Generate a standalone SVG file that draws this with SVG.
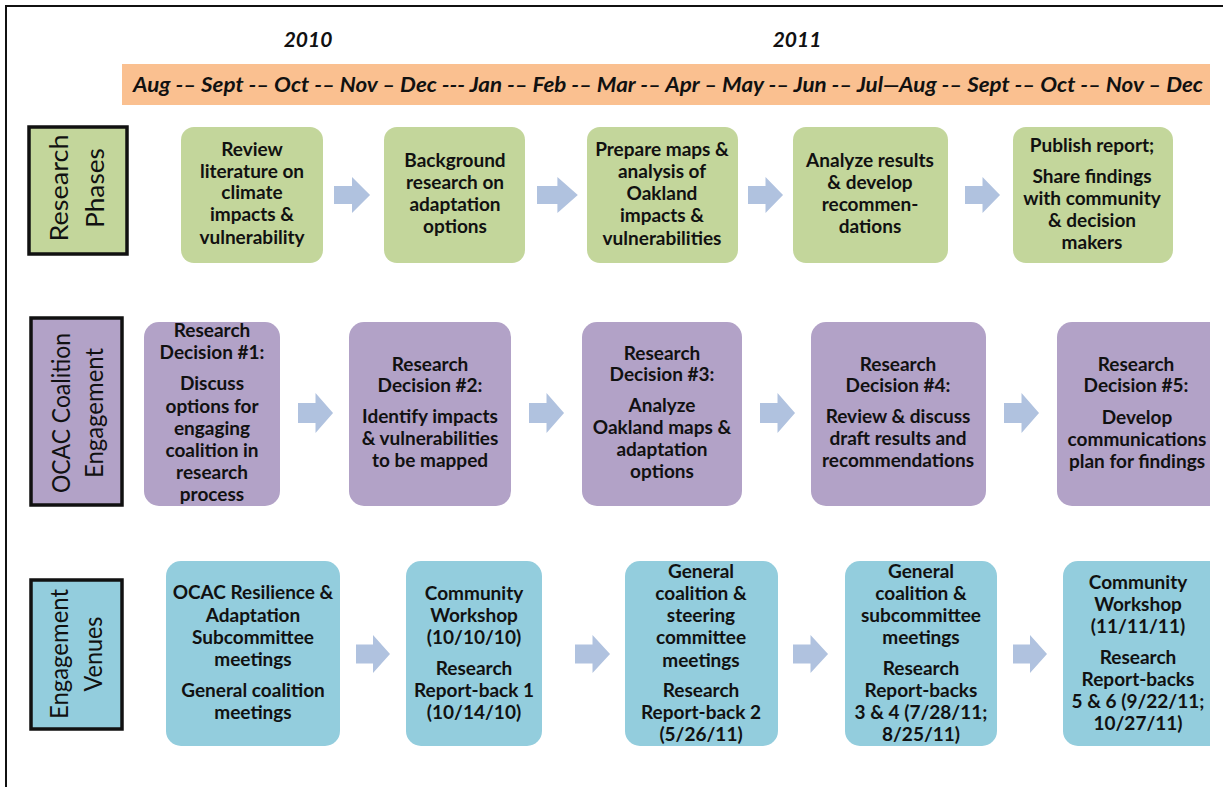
<svg xmlns="http://www.w3.org/2000/svg" width="1223" height="787" viewBox="0 0 1223 787">
<style>
.t{font-family:Lato,"Liberation Sans",sans-serif;font-weight:bold;font-size:19px;fill:#111;text-anchor:middle}
.lab{font-family:Lato,"Liberation Sans",sans-serif;font-size:25px;fill:#111;text-anchor:middle}
.yr{font-family:Lato,"Liberation Sans",sans-serif;font-weight:bold;font-style:italic;font-size:21px;fill:#111;text-anchor:middle}
.g{fill:#c3d69b}.p{fill:#b2a2c7}.b{fill:#93cddd}
.hd{stroke:#111;stroke-width:3.5}
.ar{fill:#b0c2df}
</style>
<defs>
<path id="arr" d="M0,-10 H17 V-20 L34,0 L17,20 V10 H0 Z"/>
<clipPath id="clip"><rect x="0" y="0" width="1210" height="787"/></clipPath>
</defs>
<rect width="1223" height="787" fill="#fff"/>
<rect x="6" y="6" width="1240" height="800" fill="none" stroke="#111" stroke-width="2"/>

<g id="timeline">
<text class="yr" x="308" y="47">2010</text>
<text class="yr" x="797" y="47">2011</text>
<rect x="122" y="64" width="1088" height="41" fill="#fac090"/>
<text class="yr" x="668" y="92" textLength="1070" lengthAdjust="spacingAndGlyphs">Aug -– Sept -– Oct -– Nov – Dec --- Jan -– Feb -– Mar -– Apr – May -– Jun -– Jul—Aug -– Sept -– Oct -– Nov – Dec</text>
</g>

<g id="label-research-phases">
<rect class="g hd" x="29" y="127" width="98" height="127"/>
<g transform="translate(77,188) rotate(-90)">
<text class="lab" x="0" y="-9" textLength="107" lengthAdjust="spacingAndGlyphs">Research</text>
<text class="lab" x="0" y="27" textLength="80" lengthAdjust="spacingAndGlyphs">Phases</text>
</g>
</g>
<g id="label-ocac">
<rect class="p hd" x="31" y="318" width="91" height="187"/>
<g transform="translate(77,413) rotate(-90)">
<text class="lab" x="0" y="-7" textLength="160" lengthAdjust="spacingAndGlyphs">OCAC Coalition</text>
<text class="lab" x="0" y="26" textLength="130" lengthAdjust="spacingAndGlyphs">Engagement</text>
</g>
</g>
<g id="label-venues">
<rect class="b hd" x="31" y="580" width="91" height="149"/>
<g transform="translate(77,654) rotate(-90)">
<text class="lab" x="0" y="-9" textLength="130" lengthAdjust="spacingAndGlyphs">Engagement</text>
<text class="lab" x="0" y="25" textLength="75" lengthAdjust="spacingAndGlyphs">Venues</text>
</g>
</g>

<g id="connectors">
<use href="#arr" class="ar" transform="translate(334,195) scale(1.06,0.9)"/>
<use href="#arr" class="ar" transform="translate(537,195) scale(1.2,0.9)"/>
<use href="#arr" class="ar" transform="translate(748,195) scale(1.03,0.9)"/>
<use href="#arr" class="ar" transform="translate(965,195) scale(1.03,0.9)"/>
<use href="#arr" class="ar" transform="translate(298,413) scale(1.03,1)"/>
<use href="#arr" class="ar" transform="translate(529,413) scale(1.03,1)"/>
<use href="#arr" class="ar" transform="translate(760,413) scale(1.03,1)"/>
<use href="#arr" class="ar" transform="translate(1004,413) scale(1.03,1)"/>
<use href="#arr" class="ar" transform="translate(356,654) scale(1.0,0.95)"/>
<use href="#arr" class="ar" transform="translate(575,654) scale(1.03,0.95)"/>
<use href="#arr" class="ar" transform="translate(793,654) scale(1.03,0.95)"/>
<use href="#arr" class="ar" transform="translate(1013,654) scale(1.0,0.95)"/>
</g>

<g id="rp1"><rect class="g" x="181" y="127" width="142" height="136" rx="13"/>
<text class="t" x="252" y="156">Review</text><text class="t" x="252" y="178">literature on</text><text class="t" x="252" y="199">climate</text><text class="t" x="252" y="221">impacts &amp;</text><text class="t" x="252" y="244">vulnerability</text></g>
<g id="rp2"><rect class="g" x="384" y="127" width="141" height="136" rx="13"/>
<text class="t" x="455" y="167">Background</text><text class="t" x="455" y="189">research on</text><text class="t" x="455" y="211">adaptation</text><text class="t" x="455" y="233">options</text></g>
<g id="rp3"><rect class="g" x="587" y="127" width="151" height="136" rx="13"/>
<text class="t" x="662" y="156">Prepare maps &amp;</text><text class="t" x="662" y="178">analysis of</text><text class="t" x="662" y="200">Oakland</text><text class="t" x="662" y="222">impacts &amp;</text><text class="t" x="662" y="245">vulnerabilities</text></g>
<g id="rp4"><rect class="g" x="793" y="127" width="155" height="136" rx="13"/>
<text class="t" x="870" y="167">Analyze results</text><text class="t" x="870" y="189">&amp; develop</text><text class="t" x="870" y="211">recommen-</text><text class="t" x="870" y="233">dations</text></g>
<g id="rp5"><rect class="g" x="1013" y="127" width="160" height="136" rx="13"/>
<text class="t" x="1092" y="152">Publish report;</text><text class="t" x="1092" y="183">Share findings</text><text class="t" x="1092" y="205">with community</text><text class="t" x="1092" y="227">&amp; decision</text><text class="t" x="1092" y="249">makers</text></g>

<g id="oc1"><rect class="p" x="144" y="322" width="136" height="184" rx="15"/>
<text class="t" x="212" y="337">Research</text><text class="t" x="212" y="359">Decision #1:</text><text class="t" x="212" y="390">Discuss</text><text class="t" x="212" y="413">options for</text><text class="t" x="212" y="435">engaging</text><text class="t" x="212" y="457">coalition in</text><text class="t" x="212" y="479">research</text><text class="t" x="212" y="501">process</text></g>
<g id="oc2"><rect class="p" x="349" y="322" width="162" height="184" rx="15"/>
<text class="t" x="430" y="371">Research</text><text class="t" x="430" y="392">Decision #2:</text><text class="t" x="430" y="423">Identify impacts</text><text class="t" x="430" y="445">&amp; vulnerabilities</text><text class="t" x="430" y="467">to be mapped</text></g>
<g id="oc3"><rect class="p" x="582" y="322" width="160" height="184" rx="15"/>
<text class="t" x="662" y="360">Research</text><text class="t" x="662" y="381">Decision #3:</text><text class="t" x="662" y="412">Analyze</text><text class="t" x="662" y="434">Oakland maps &amp;</text><text class="t" x="662" y="456">adaptation</text><text class="t" x="662" y="478">options</text></g>
<g id="oc4"><rect class="p" x="811" y="322" width="175" height="184" rx="15"/>
<text class="t" x="898" y="371">Research</text><text class="t" x="898" y="392">Decision #4:</text><text class="t" x="898" y="423">Review &amp; discuss</text><text class="t" x="898" y="445">draft results and</text><text class="t" x="898" y="467">recommendations</text></g>
<g id="oc5" clip-path="url(#clip)"><rect class="p" x="1057" y="322" width="170" height="184" rx="15"/>
<text class="t" x="1136" y="371">Research</text><text class="t" x="1136" y="392">Decision #5:</text><text class="t" x="1137" y="424">Develop</text><text class="t" x="1137" y="446">communications</text><text class="t" x="1137" y="468">plan for findings</text></g>

<g id="ev1"><rect class="b" x="166" y="561" width="174" height="185" rx="15"/>
<text class="t" x="253" y="599">OCAC Resilience &amp;</text><text class="t" x="253" y="622">Adaptation</text><text class="t" x="253" y="644">Subcommittee</text><text class="t" x="253" y="666">meetings</text><text class="t" x="253" y="697">General coalition</text><text class="t" x="253" y="719">meetings</text></g>
<g id="ev2"><rect class="b" x="406" y="561" width="136" height="185" rx="15"/>
<text class="t" x="474" y="600">Community</text><text class="t" x="474" y="622">Workshop</text><text class="t" x="474" y="644">(10/10/10)</text><text class="t" x="474" y="675">Research</text><text class="t" x="474" y="697">Report-back 1</text><text class="t" x="474" y="719">(10/14/10)</text></g>
<g id="ev3"><rect class="b" x="625" y="561" width="153" height="185" rx="15"/>
<text class="t" x="701" y="578">General</text><text class="t" x="701" y="600">coalition &amp;</text><text class="t" x="701" y="622">steering</text><text class="t" x="701" y="644">committee</text><text class="t" x="701" y="667">meetings</text><text class="t" x="701" y="697">Research</text><text class="t" x="701" y="719">Report-back 2</text><text class="t" x="701" y="741">(5/26/11)</text></g>
<g id="ev4"><rect class="b" x="845" y="561" width="152" height="185" rx="15"/>
<text class="t" x="921" y="578">General</text><text class="t" x="921" y="600">coalition &amp;</text><text class="t" x="921" y="622">subcommittee</text><text class="t" x="921" y="644">meetings</text><text class="t" x="921" y="675">Research</text><text class="t" x="921" y="697">Report-backs</text><text class="t" x="921" y="719">3 &amp; 4 (7/28/11;</text><text class="t" x="921" y="741">8/25/11)</text></g>
<g id="ev5" clip-path="url(#clip)"><rect class="b" x="1063" y="561" width="170" height="185" rx="15"/>
<text class="t" x="1138" y="589">Community</text><text class="t" x="1138" y="611">Workshop</text><text class="t" x="1138" y="633">(11/11/11)</text><text class="t" x="1138" y="664">Research</text><text class="t" x="1138" y="686">Report-backs</text><text class="t" x="1138" y="708">5 &amp; 6 (9/22/11;</text><text class="t" x="1138" y="730">10/27/11)</text></g>
</svg>
